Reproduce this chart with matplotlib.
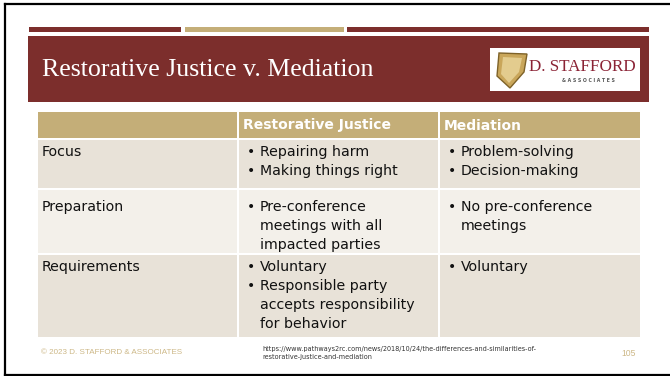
import matplotlib
matplotlib.use('Agg')
import matplotlib.pyplot as plt
from matplotlib.patches import Rectangle, Polygon

#%% Slide content
title = "Restorative Justice v. Mediation"
col_headers = ["", "Restorative Justice", "Mediation"]
row_labels = ["Focus", "Preparation", "Requirements"]
rj_items = [["Repairing harm", "Making things right"],
            ["Pre-conference\nmeetings with all\nimpacted parties"],
            ["Voluntary", "Responsible party\naccepts responsibility\nfor behavior"]]
med_items = [["Problem-solving", "Decision-making"],
             ["No pre-conference\nmeetings"],
             ["Voluntary"]]
footer_left = "\u00a9 2023 D. STAFFORD & ASSOCIATES"
footer_url = ("https://www.pathways2rc.com/news/2018/10/24/the-differences-and-similarities-of-\n"
              "restorative-justice-and-mediation")
page_no = "105"

#%% Colours
maroon = '#7C2E2C'
tan = '#C4AE78'
row_dark = '#E8E2D8'
row_light = '#F3F0EA'
footer_col = '#CDB887'

#%% Figure in pixel coordinates
W, H = 670, 376
fig = plt.figure(figsize=(W / 100, H / 100), dpi=100)
ax = fig.add_axes([0, 0, 1, 1])
ax.set_xlim(0, W)
ax.set_ylim(H, 0)
ax.axis('off')

# slide frame
ax.plot([5, 5], [4, 375], color='black', lw=1.6)
ax.plot([5, W], [4, 4], color='black', lw=1.6)
ax.plot([5, W], [375, 375], color='black', lw=1.6)

# three thin bars on top
bar_x = [(29, 181), (185, 344), (347, 649)]
bar_cols = [maroon, tan, maroon]
for (x0, x1), c in zip(bar_x, bar_cols):
    ax.add_patch(Rectangle((x0, 27), x1 - x0, 5, color=c, lw=0))

# title band
ax.add_patch(Rectangle((28, 36), 621, 66, color=maroon, lw=0))
ax.text(42, 70, title, color='white', fontsize=18.6, family='Liberation Serif',
        va='center', ha='left')

# logo box
ax.add_patch(Rectangle((490, 48), 150, 43, color='white', lw=0))
ax.add_patch(Polygon([[499, 53], [527, 54], [524, 72], [510, 88], [497, 76]],
                     closed=True, fc='#C9A65A', ec='#7E6228', lw=1))
ax.add_patch(Polygon([[503, 57], [522, 58], [519, 72], [509, 83], [501, 74]],
                     closed=True, fc='#E3CC8E', ec='none'))
ax.text(529, 67, "D. STAFFORD", color='#8B2335', fontsize=12.3,
        family='Liberation Serif', va='center', ha='left')
ax.text(588, 80, "& A S S O C I A T E S", color='#555555', fontsize=3.3,
        family='DejaVu Sans', va='center', ha='center', weight='bold')

#%% Table
col_x = [37, 238, 439, 641]
row_y = [112, 139, 189, 254, 338]
first_line = [152, 207, 267]
gap = 1.0
line_h = 19

# header row
for j in range(3):
    ax.add_patch(Rectangle((col_x[j] + gap, row_y[0]),
                           col_x[j + 1] - col_x[j] - 2 * gap,
                           row_y[1] - row_y[0] - gap, color=tan, lw=0))
    ax.text(col_x[j] + 5, (row_y[0] + row_y[1]) / 2, col_headers[j],
            color='white', fontsize=10, weight='bold', va='center', ha='left')

def draw_items(x, y, items):
    # bulleted paragraphs, wrapped lines kept under the text start
    for item in items:
        lines = item.split('\n')
        ax.text(x, y, '\u2022', color='#111111', fontsize=10, va='center', ha='left')
        for ln in lines:
            ax.text(x + 13, y, ln, color='#111111', fontsize=10.2, va='center', ha='left')
            y += line_h

for i, label in enumerate(row_labels):
    y0, y1 = row_y[i + 1], row_y[i + 2]
    fill = row_dark if i % 2 == 0 else row_light
    for j in range(3):
        ax.add_patch(Rectangle((col_x[j] + gap, y0 + gap),
                               col_x[j + 1] - col_x[j] - 2 * gap,
                               y1 - y0 - 2 * gap, color=fill, lw=0))
    ty = first_line[i]
    ax.text(col_x[0] + 5, ty, label, color='#111111', fontsize=10.2,
            va='center', ha='left')
    draw_items(col_x[1] + 9, ty, rj_items[i])
    draw_items(col_x[2] + 9, ty, med_items[i])

#%% Footer
ax.text(41, 353, footer_left, color=footer_col, fontsize=5.8, family='Liberation Sans',
        va='center', ha='left')
ax.text(262, 353, footer_url, color='#333333', fontsize=4.7,
        va='center', ha='left', linespacing=1.45)
ax.text(636, 353, page_no, color=footer_col, fontsize=6.2, family='Liberation Sans',
        va='center', ha='right')

fig.savefig('out.png', dpi=100)
